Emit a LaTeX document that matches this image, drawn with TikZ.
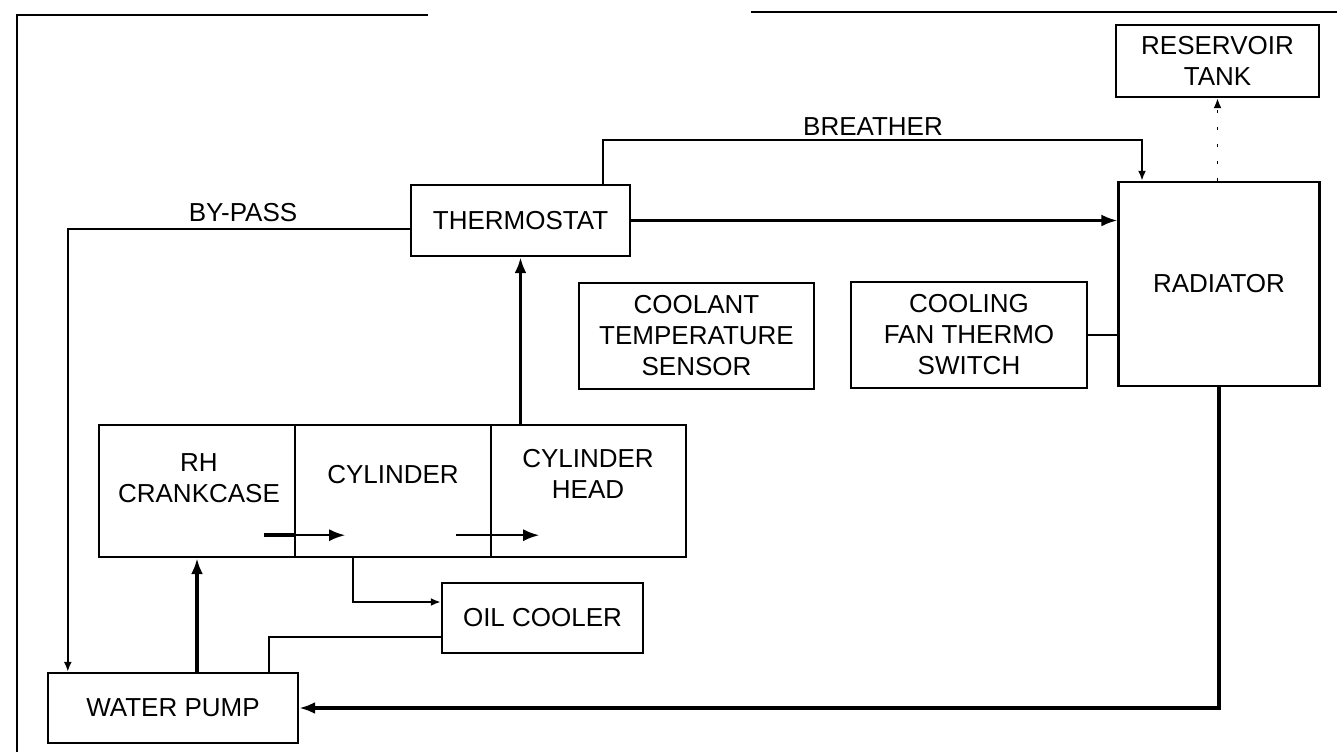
\documentclass[tikz,border=0pt]{standalone}
\usepackage{fontspec}
\setmainfont{Liberation Sans}
\usetikzlibrary{arrows.meta,calc}
\newcommand\lbl{\fontsize{26}{31}\selectfont}
\tikzset{
  blk/.style={draw, line width=2.4pt, rectangle, inner sep=0pt, align=center, font=\lbl},
  txt/.style={inner sep=0pt, align=center, font=\lbl},
  conn/.style={line width=2.2pt},
  thick conn/.style={line width=3.4pt},
  tip/.style={-{Latex[length=16pt,width=12pt]}},
  smalltip/.style={-{Latex[length=10pt,width=8pt]}},
}
\begin{document}
\begin{tikzpicture}[x=1pt,y=-1pt]
\useasboundingbox (0,0) rectangle (1337,752);
% boxes
\node[blk, minimum width=219pt, minimum height=71pt] (thermo) at (520.5,220.5) {THERMOSTAT};
\node[blk, minimum width=203pt, minimum height=72pt] (res) at (1217.5,61) {RESERVOIR\\TANK};
\node[blk, minimum width=201pt, minimum height=204pt] (rad) at (1219,284) {RADIATOR};
\node[blk, minimum width=235pt, minimum height=106pt] (sensor) at (696.5,336) {COOLANT\\TEMPERATURE\\SENSOR};
\node[blk, minimum width=236pt, minimum height=106pt] (fan) at (969,335) {COOLING\\FAN THERMO\\SWITCH};
\node[blk, minimum width=196pt, minimum height=132pt] (crank) at (197,491) {};
\node[blk, minimum width=196pt, minimum height=132pt] (cyl) at (393,491) {};
\node[blk, minimum width=195pt, minimum height=132pt] (head) at (588.5,491) {};
\node[txt] (crankt) at (199,478) {RH\\CRANKCASE};
\node[txt] (cylt) at (393,475) {CYLINDER};
\node[txt] (headt) at (588,474) {CYLINDER\\HEAD};
\node[blk, minimum width=201pt, minimum height=70pt] (oil) at (542.5,618) {OIL COOLER};
\node[blk, minimum width=250pt, minimum height=70pt] (pump) at (173,708) {WATER PUMP};
% labels
\node[txt] (bypass) at (243,213) {BY-PASS};
\node[txt] (breather) at (873,127) {BREATHER};
% outer frame lines
\coordinate (fbl) at (17,752);
\coordinate (ftl) at (17,15);
\coordinate (ftm) at (428,15);
\coordinate (ftr1) at (751,12);
\coordinate (ftr2) at (1337,12);
\draw[conn] (fbl) -- (ftl) -- (ftm);
\draw[conn] (ftr1) -- (ftr2);
% by-pass
\draw[conn, smalltip] ($(thermo.west)+(0,8.5)$) -| ($(pump.north west)+(21,0)$);
% thermostat -> radiator
\draw[line width=2.6pt, tip] (thermo.east) -- (thermo.east -| rad.west);
% breather
\coordinate (brk) at (1142,140);
\draw[conn, smalltip] ($(thermo.north)+(82.5,0)$) |- (brk) -- (brk |- rad.north);
% reservoir link
\draw[line width=1.8pt, dash pattern=on 3pt off 14pt, smalltip] (res.south |- rad.north) -- (res.south);
% fan switch - radiator
\draw[conn] (fan.east) -- (fan.east -| rad.west);
% sensor - head
\draw[line width=1.8pt] ($(sensor.south)+(-72,0)$) -- ($(sensor.south)+(-72,0)$ |- head.north);
% engine -> thermostat
\draw[line width=3.8pt, tip] (thermo.south |- cyl.north) -- (thermo.south);
% internal arrows
\draw[line width=3.8pt] ($(crank.south east)+(-32,-23)$) -- ($(crank.south east)+(0,-23)$);
\draw[conn, tip] ($(crank.south east)+(0,-23)$) -- ($(crank.south east)+(49,-23)$);
\draw[conn, tip] ($(cyl.south east)+(-36,-23)$) -- ($(cyl.south east)+(47,-23)$);
% cylinder -> oil cooler
\draw[conn, smalltip] ($(cyl.south west)+(59,0)$) |- ($(oil.west)+(0,-16)$);
% oil cooler -> pump
\draw[conn] ($(oil.west)+(0,19)$) -| ($(pump.north east)+(-30,0)$);
% pump -> crankcase
\draw[line width=3.6pt, tip] (crank.south |- pump.north) -- (crank.south);
% radiator -> pump
\draw[thick conn, tip] (rad.south) -- (rad.south |- pump.east) -- (pump.east);
\end{tikzpicture}
\end{document}
